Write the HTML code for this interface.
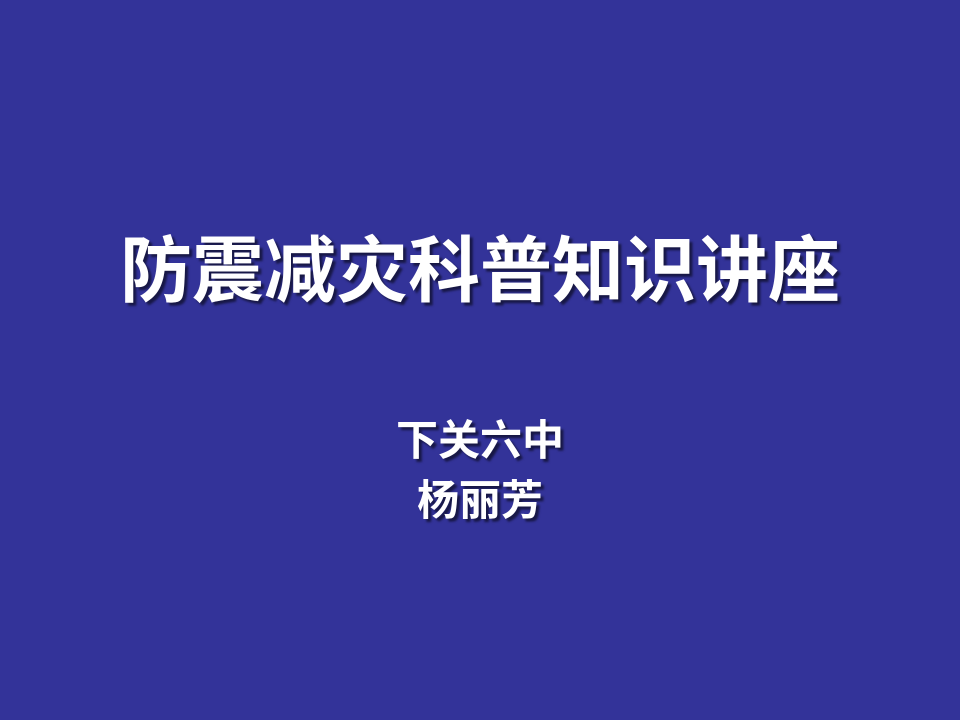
<!DOCTYPE html>
<html><head><meta charset="utf-8"><style>
html,body{margin:0;padding:0;}
body{width:960px;height:720px;background:#333399;position:relative;overflow:hidden;font-family:"Liberation Sans","Noto Sans CJK SC",sans-serif;color:#fff;}
.t{position:absolute;left:0;width:960px;text-align:center;font-weight:bold;text-shadow:3px 3px 2px rgba(0,0,0,0.55);white-space:nowrap;}
#title{top:230px;font-size:72px;line-height:84px;}
#s1{top:416px;font-size:42px;line-height:50px;}
#s2{top:476px;font-size:42px;line-height:50px;}
</style></head><body>
<div id="title" class="t">防震减灾科普知识讲座</div>
<div id="s1" class="t">下关六中</div>
<div id="s2" class="t">杨丽芳</div>
</body></html>
